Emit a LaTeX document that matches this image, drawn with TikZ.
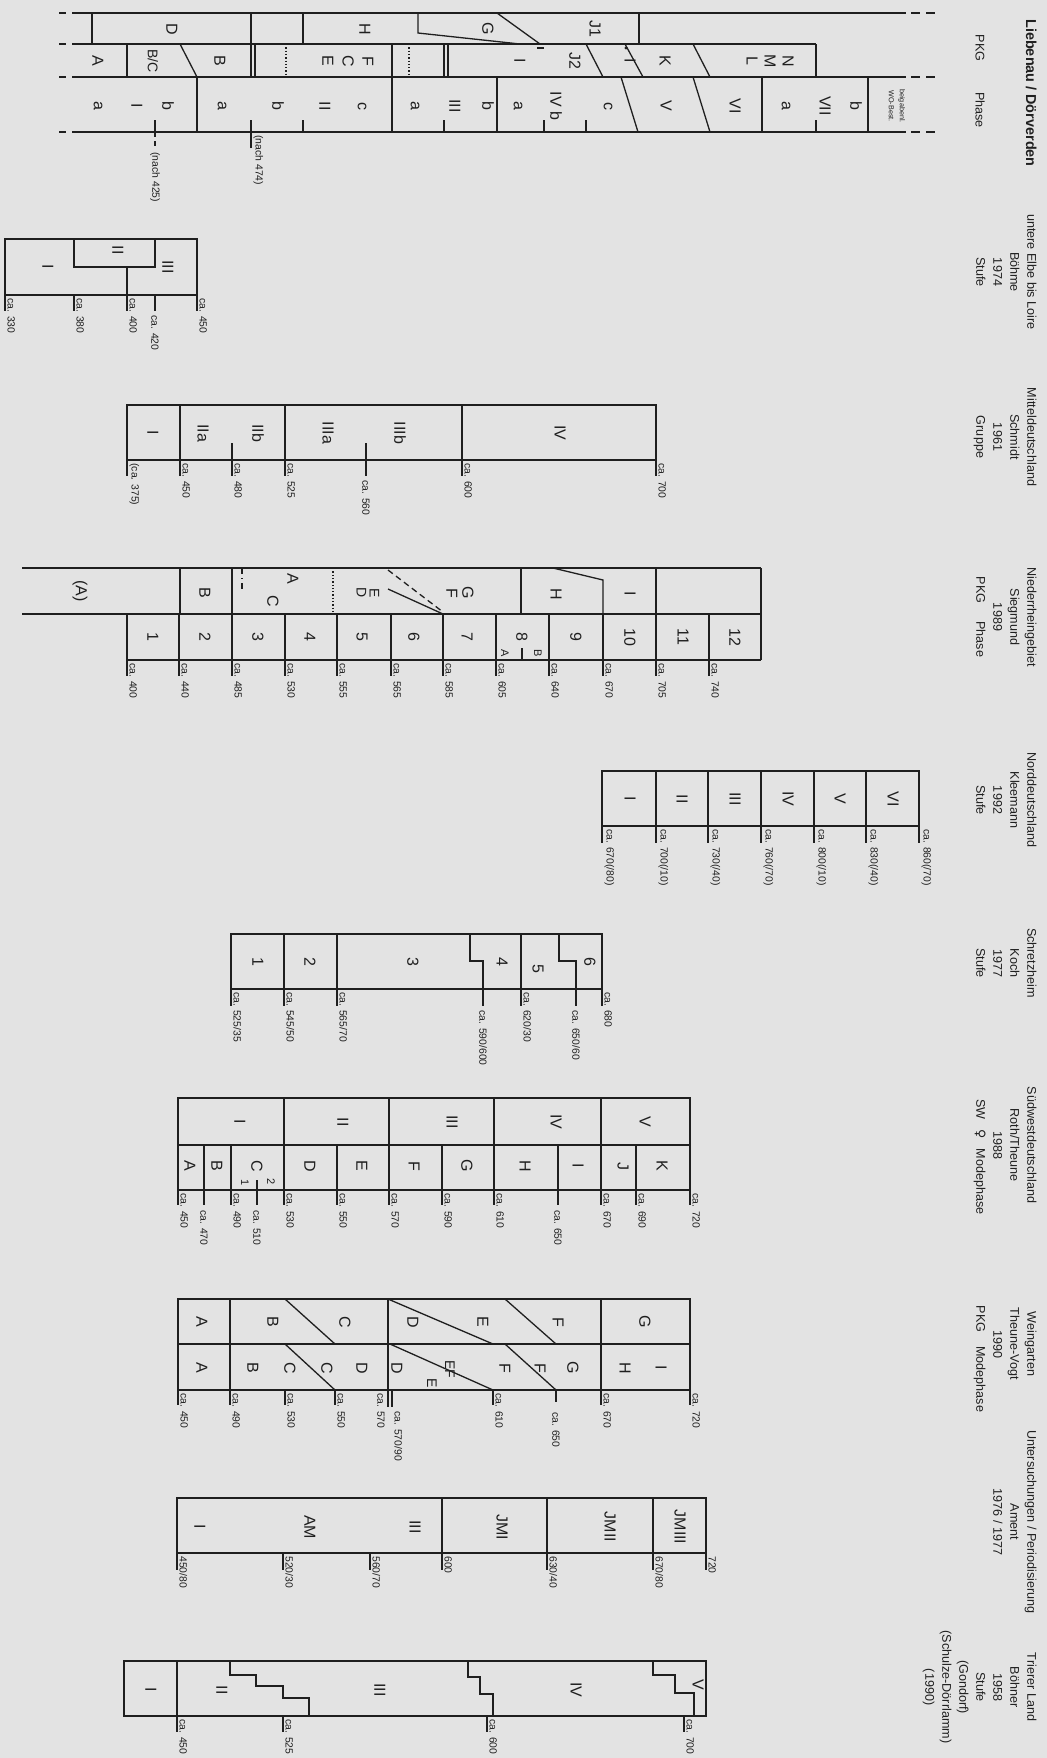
\documentclass[tikz,border=0pt]{standalone}
\usepackage{fontspec}
\setmainfont{Liberation Sans}
\newfontfamily\symfont{DejaVu Sans}
\usetikzlibrary{positioning}
\definecolor{paper}{gray}{0.89}
\definecolor{ink}{gray}{0.12}

\begin{document}
\begin{tikzpicture}[x=0.5pt,y=-0.5pt]
\tikzset{
	ln/.style={line width=0.65pt,draw=ink},
	bx/.style={rotate=-90,inner sep=0pt,align=center,text=ink,font=\fontsize{8}{10}\selectfont},
	sm/.style={bx,font=\fontsize{5.5}{6.5}\selectfont},
	ca/.style={rotate=-90,inner sep=1pt,anchor=south west,text=ink,font=\fontsize{5.2}{6}\selectfont},
	cab/.style={ca,anchor=west},
	hd/.style={rotate=-90,inner sep=0pt,anchor=north,align=center,text=ink,font=\fontsize{6.3}{8.5}\selectfont}
}
\fill[paper] (0,0) rectangle (1047,1758);
\useasboundingbox (0,0) rectangle (1047,1758);

% column heads
\node[hd,font=\bfseries\fontsize{7.2}{8.5}\selectfont] (hLieb) at (1037,93) {Liebenau / Dörverden};
\node[hd,anchor=center] (hPKG) at (980,48) {PKG};
\node[hd,anchor=center] (hPhase) at (980,110) {Phase};
\node[hd] (hBoehme) at (1037,272) {untere Elbe bis Loire\\Böhme\\1974\\Stufe};
\node[hd] (hSchmidt) at (1037,437) {Mitteldeutschland\\Schmidt\\1961\\Gruppe};
\node[hd] (hSiegmund) at (1037,617) {Niederrheingebiet\\Siegmund\\1989\\PKG\hspace{9pt}Phase};
\node[hd] (hKleemann) at (1037,800) {Norddeutschland\\Kleemann\\1992\\Stufe};
\node[hd] (hKoch) at (1037,963) {Schretzheim\\Koch\\1977\\Stufe};
\node[hd] (hRoth) at (1037,1145) {Südwestdeutschland\\Roth/Theune\\1988\\\hspace*{12pt}SW\hspace{5pt}{\symfont ♀}\hspace{5pt}Modephase};
\node[hd] (hTheune) at (1037,1344) {Weingarten\\Theune-Vogt\\1990\\\hspace*{15pt}PKG\hspace{7pt}Modephase};
\node[hd] (hAment) at (1037,1522) {Untersuchungen / Periodisierung\\Ament\\1976 / 1977};
\node[hd] (hBoehner) at (1037,1687) {Trierer Land\\Böhner\\1958\\Stufe\\(Gondorf)\\(Schulze-Dörrlamm)\\(1990)};

% Liebenau / Doerverden
\foreach \y in {13,44,77,132} \draw[ln] (59,\y) -- (66,\y);
\draw[ln] (72,13) -- (906,13);
\draw[ln] (72,44) -- (816,44);
\draw[ln] (72,77) -- (906,77);
\draw[ln] (72,132) -- (906,132);
\foreach \y in {13,77,132} \draw[ln,dash pattern=on 4.5pt off 3pt] (911,\y) -- (938,\y);
\foreach \x in {92,251,303,639} \draw[ln] (\x,13) -- (\x,44);
\draw[ln] (418,13) -- (418,33) -- (520,44);
\draw[ln] (497,13) -- (540,44);
\draw[ln] (127,44) -- (127,77);
\draw[ln] (180,44) -- (197,77);
\draw[ln,line width=1.1pt] (251,44) -- (251,77);
\draw[ln] (255,44) -- (255,77);
\draw[ln,densely dotted] (286,44) -- (286,77);
\draw[ln] (392,44) -- (392,132);
\draw[ln,densely dotted] (409,44) -- (409,77);
\draw[ln,line width=1.1pt] (444,44) -- (444,77);
\draw[ln] (448,44) -- (448,77);
\draw[ln] (586,44) -- (603,77);
\draw[ln] (625,44) -- (643,77);
\draw[ln] (693,44) -- (710,77);
\draw[ln] (816,44) -- (816,77);
\draw[ln] (537,48) -- (544,48);
\fill[ink] (626,48) circle (1.6);
\foreach \x in {197,497,762,868} \draw[ln] (\x,77) -- (\x,132);
\draw[ln] (621,77) -- (638,132);
\draw[ln] (693,77) -- (710,132);
\foreach \x in {155,303,444,544,586,816} \draw[ln] (\x,120) -- (\x,132);
\draw[ln] (251,120) -- (251,148);
\draw[ln] (155,132) -- (155,137);
\draw[ln] (155,141) -- (155,146);
\foreach \x/\t [count=\i] in {172/D,365/H,488/G,595/J1} \node[bx] (lbT\i) at (\x,29) {\t};
\foreach \x/\t [count=\i] in {98/A,220/B,520/I,575/J2,630/I,665/K} \node[bx] (lbM\i) at (\x,61) {\t};
\node[bx,font=\fontsize{7}{8}\selectfont] (lbBC) at (153,61) {B/C};
\node[bx] (lbFCE) at (348,61) {F\\C\\E};
\node[bx,font=\fontsize{8}{9}\selectfont] (lbNML) at (770,61) {N\\M\\L};
\foreach \x/\t [count=\i] in {98/a,137/I,168/b,222/a,278/b,325/II,362/c,415/a,455/III,488/b,518/a,556/IV b,608/c,666/V,735/VI,786/a,825/VII,856/b}
	\node[bx] (lbP\i) at (\x,106) {\t};
\node[bx,font=\fontsize{3.6}{5.5}\selectfont] (lbWO) at (897,106) {beigabenl.\\WO-Best.};
\node[cab] (lbN1) at (155,150) {(nach 425)};
\node[ca] (lbN2) at (251,133) {(nach 474)};

% Boehme
\draw[ln] (5,239) rectangle (197,295);
\draw[ln] (74,239) -- (74,267) -- (155,267) -- (155,239);
\draw[ln] (127,267) -- (127,295);
\node[bx] (bh1) at (48,267) {I};
\node[bx] (bh2) at (118,250) {II};
\node[bx] (bh3) at (168,267) {III};
\foreach \x/\t [count=\i] in {5/ca. 330,74/ca. 380,127/ca. 400,197/ca. 450}
	{\draw[ln] (\x,295) -- (\x,311); \node[ca] (bht\i) at (\x,296) {\t};}
\draw[ln] (155,295) -- (155,311);
\node[cab] (bht5) at (155,313) {ca. 420};

% Schmidt
\draw[ln] (127,405) rectangle (656,460);
\foreach \x in {180,285,462} \draw[ln] (\x,405) -- (\x,460);
\foreach \x in {232,366} \draw[ln] (\x,443) -- (\x,476);
\foreach \x/\t [count=\i] in {153/I,203/IIa,258/IIb,328/IIIa,400/IIIb,560/IV} \node[bx] (sc\i) at (\x,433) {\t};
\foreach \x/\t [count=\i] in {127/{(ca. 375)},180/ca. 450,232/ca. 480,285/ca. 525,462/ca. 600,656/ca. 700}
	{\draw[ln] (\x,460) -- (\x,476); \node[ca] (sct\i) at (\x,461) {\t};}
\node[cab] (sct7) at (366,478) {ca. 560};

% Siegmund
\draw[ln] (22,568) -- (761,568);
\draw[ln] (22,614) -- (761,614);
\draw[ln] (127,660) -- (761,660);
\foreach \x in {180,232,521} \draw[ln] (\x,568) -- (\x,614);
\draw[ln] (553,568) -- (603,580) -- (603,614);
\foreach \x in {656,761} \draw[ln] (\x,568) -- (\x,660);
\foreach \x in {127,179,232,285,337,391,443,496,549,603,709} \draw[ln] (\x,614) -- (\x,660);
\draw[ln,dash dot] (242,568) -- (242,592);
\draw[ln,densely dotted] (333,568) -- (333,614);
\draw[ln] (388,589) -- (443,614);
\draw[ln,densely dashed] (388,570) -- (443,612);
\draw[ln] (522,648) -- (522,660);
\node[bx] (sgA0) at (80,591) {(A)};
\node[bx] (sgB0) at (205,593) {B};
\node[bx] (sgA) at (293,579) {A};
\node[bx] (sgC) at (273,601) {C};
\node[bx,font=\fontsize{7}{6.5}\selectfont] (sgED) at (368,593) {E\\D};
\node[bx,font=\fontsize{8}{8}\selectfont] (sgGF) at (460,593) {G\\F};
\node[bx] (sgH) at (556,594) {H};
\node[bx] (sgI) at (630,594) {I};
\foreach \x/\t [count=\i] in {153/1,205/2,258/3,310/4,362/5,414/6,467/7,522/8,576/9,630/10,683/11,735/12}
	\node[bx] (sg\i) at (\x,637) {\t};
\node[sm] (sga) at (505,653) {A};
\node[sm] (sgb) at (538,653) {B};
\foreach \x/\t [count=\i] in {127/ca. 400,179/ca. 440,232/ca. 485,285/ca. 530,337/ca. 555,391/ca. 565,443/ca. 585,496/ca. 605,549/ca. 640,603/ca. 670,656/ca. 705,709/ca. 740}
	{\draw[ln] (\x,660) -- (\x,676); \node[ca] (sgt\i) at (\x,661) {\t};}

% Kleemann
\draw[ln] (602,771) rectangle (919,826);
\foreach \x in {656,708,761,814,866} \draw[ln] (\x,771) -- (\x,826);
\foreach \x/\t [count=\i] in {630/I,682/II,735/III,788/IV,840/V,893/VI} \node[bx] (kl\i) at (\x,799) {\t};
\foreach \x/\t [count=\i] in {602/{ca. 670(/80)},656/{ca. 700(/10)},708/{ca. 730(/40)},761/{ca. 760(/70)},814/{ca. 800(/10)},866/{ca. 830(/40)},919/{ca. 860(/70)}}
	{\draw[ln] (\x,826) -- (\x,843); \node[ca] (klt\i) at (\x,827) {\t};}

% Koch
\draw[ln] (231,934) rectangle (602,989);
\foreach \x in {284,337,521} \draw[ln] (\x,934) -- (\x,989);
\draw[ln] (470,934) -- (470,961) -- (483,961) -- (483,989);
\draw[ln] (559,934) -- (559,961) -- (576,961) -- (576,989);
\foreach \x/\y/\t [count=\i] in {258/962/1,310/962/2,413/962/3,502/962/4,538/969/5,590/962/6} \node[bx] (ko\i) at (\x,\y) {\t};
\foreach \x/\t [count=\i] in {231/{ca. 525/35},284/{ca. 545/50},337/{ca. 565/70},521/{ca. 620/30},602/{ca. 680}}
	{\draw[ln] (\x,989) -- (\x,1006); \node[ca] (kot\i) at (\x,990) {\t};}
\foreach \x/\t [count=\i] in {483/{ca. 590/600},576/{ca. 650/60}}
	{\draw[ln] (\x,989) -- (\x,1006); \node[cab] (kob\i) at (\x,1008) {\t};}

% Roth / Theune
\draw[ln] (178,1098) rectangle (690,1190);
\draw[ln] (178,1145) -- (690,1145);
\foreach \x in {284,389,494,601} \draw[ln] (\x,1098) -- (\x,1190);
\foreach \x in {204,231,337,442,558,636} \draw[ln] (\x,1145) -- (\x,1190);
\foreach \x/\t [count=\i] in {240/I,343/II,452/III,556/IV,645/V} \node[bx] (rtU\i) at (\x,1122) {\t};
\foreach \x/\t [count=\i] in {190/A,217/B,257/C,310/D,362/E,414/F,467/G,525/H,578/I,623/J,662/K} \node[bx] (rtL\i) at (\x,1166) {\t};
\node[sm] (rt1) at (245,1183) {1};
\node[sm] (rt2) at (271,1182) {2};
\foreach \x/\t [count=\i] in {178/ca. 450,231/ca. 490,284/ca. 530,337/ca. 550,389/ca. 570,442/ca. 590,494/ca. 610,601/ca. 670,636/ca. 690,690/ca. 720}
	{\draw[ln] (\x,1190) -- (\x,1205); \node[ca] (rtt\i) at (\x,1191) {\t};}
\draw[ln] (257,1180) -- (257,1205);
\foreach \x/\t [count=\i] in {204/ca. 470,257/ca. 510,558/ca. 650}
	{\draw[ln] (\x,1190) -- (\x,1205); \node[cab] (rtb\i) at (\x,1208) {\t};}

% Theune-Vogt
\draw[ln] (178,1299) rectangle (690,1390);
\draw[ln] (178,1344) -- (690,1344);
\foreach \x in {230,388,601} \draw[ln] (\x,1299) -- (\x,1390);
\draw[ln] (285,1299) -- (335,1344);
\draw[ln] (285,1344) -- (335,1390);
\draw[ln] (388,1299) -- (493,1344);
\draw[ln] (390,1344) -- (493,1390);
\draw[ln] (505,1299) -- (556,1344);
\draw[ln] (505,1344) -- (556,1390);
\foreach \x/\t [count=\i] in {202/A,273/B,345/C,413/D,483/E,558/F,645/G} \node[bx] (tvU\i) at (\x,1322) {\t};
\foreach \x/\t [count=\i] in {202/A,253/B,290/C,327/C,362/D,397/D,505/F,540/F,573/G,625/H,661/I} \node[bx] (tvL\i) at (\x,1368) {\t};
\node[bx,font=\fontsize{7}{8}\selectfont] (tvEF) at (450,1369) {EF};
\node[bx,font=\fontsize{7}{8}\selectfont] (tvE) at (432,1383) {E};
\foreach \x/\t [count=\i] in {178/ca. 450,230/ca. 490,285/ca. 530,335/ca. 550,493/ca. 610,601/ca. 670,690/ca. 720}
	{\draw[ln] (\x,1390) -- (\x,1405); \node[ca] (tvt\i) at (\x,1391) {\t};}
\draw[ln] (388,1390) -- (388,1407);
\draw[ln] (392,1390) -- (392,1407);
\node[ca,anchor=north west] (tvt8) at (387,1391) {ca. 570};
\node[ca] (tvt9) at (392,1409) {ca. 570/90};
\draw[ln] (556,1390) -- (556,1402);
\node[cab] (tvt10) at (556,1410) {ca. 650};

% Ament
\draw[ln] (177,1498) rectangle (706,1553);
\foreach \x in {442,547,653} \draw[ln] (\x,1498) -- (\x,1553);
\foreach \x/\t [count=\i] in {200/I,310/AM,415/III,502/JMI,610/JMII,680/JMIII} \node[bx] (am\i) at (\x,1527) {\t};
\foreach \x/\t [count=\i] in {177/{450/80},283/{520/30},370/{560/70},442/{600},547/{630/40},653/{670/80},706/{720}}
	{\draw[ln] (\x,1553) -- (\x,1570); \node[ca] (amt\i) at (\x,1554) {\t};}

% Boehner
\draw[ln] (124,1661) rectangle (706,1716);
\draw[ln] (177,1661) -- (177,1716);
\draw[ln] (230,1661) |- (256,1675) |- (283,1686) |- (309,1698) -- (309,1716);
\draw[ln] (468,1661) |- (480,1677) |- (493,1694) -- (493,1716);
\draw[ln] (653,1661) |- (675,1675) |- (694,1693) -- (694,1716);
\foreach \x/\y/\t [count=\i] in {151/1690/I,222/1690/II,380/1690/III,576/1690/IV,698/1685/V} \node[bx] (bo\i) at (\x,\y) {\t};
\foreach \x/\t [count=\i] in {177/ca. 450,283/ca. 525,487/ca. 600,684/ca. 700}
	{\draw[ln] (\x,1716) -- (\x,1732); \node[ca] (bot\i) at (\x,1717) {\t};}
\end{tikzpicture}
\end{document}
